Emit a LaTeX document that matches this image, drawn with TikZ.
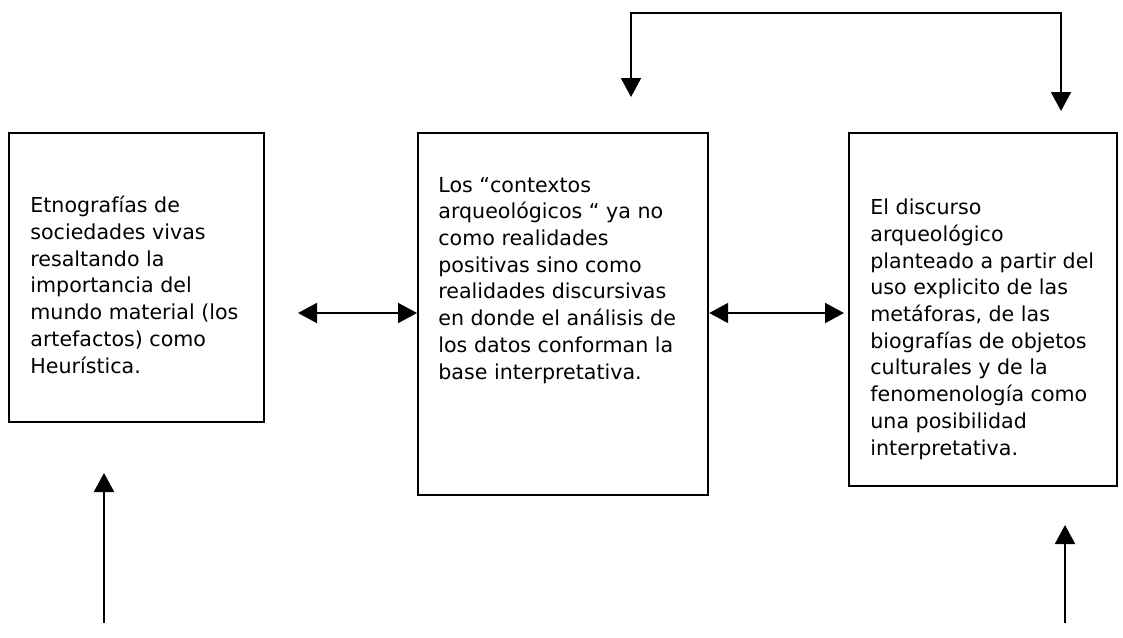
\documentclass[tikz,border=0pt]{standalone}
\usepackage{fontspec}
\setmainfont{DejaVu Sans}
\usetikzlibrary{arrows.meta,positioning,calc}
\tikzset{
  caja/.style={draw,line width=1.1pt,anchor=north west,inner sep=0pt},
  texto/.style={anchor=base west,align=left,inner sep=0pt,
    font=\fontsize{10.3}{13.35}\selectfont},
  flecha/.style={line width=1pt}
}

\begin{document}
\begin{tikzpicture}[x=0.5pt,y=-0.5pt,>={Triangle[length=9.5pt,width=10pt]}]
  \useasboundingbox (0,0) rectangle (1123,637);
  % the three boxes
  \node[caja,minimum width=127.5pt,minimum height=144.5pt] (etno) at (8,132) {};
  \node[caja,minimum width=145pt,minimum height=181pt] (ctx) at (417,132) {};
  \node[caja,minimum width=134pt,minimum height=176.5pt] (disc) at (848,132) {};
  % base = last line of each text
  \node[texto] (etnotxt) at ($(etno.north west)+(22,241)$)
    {Etnografías de\\ sociedades vivas\\ resaltando la\\ importancia del\\
     mundo material (los\\ artefactos) como\\ Heurística.};
  \node[texto] (ctxtxt) at ($(ctx.north west)+(21,247)$)
    {Los “contextos\\ arqueológicos “ ya no\\ como realidades\\ positivas sino como\\
     realidades discursivas\\ en donde el análisis de\\ los datos conforman la\\ base interpretativa.};
  \node[texto] (disctxt) at ($(disc.north west)+(22,323)$)
    {El discurso\\ arqueológico\\ planteado a partir del\\ uso explicito de las\\
     metáforas, de las\\ biografías de objetos\\ culturales y de la\\ fenomenología como\\
     una posibilidad\\ interpretativa.};
  % free ends
  \coordinate (izq) at (298,313);
  \coordinate (arribaI) at (631,97);
  \coordinate (arribaD) at (1061,111);
  \coordinate (techo) at (0,13);
  \coordinate (abajoI) at (104,623);
  \coordinate (abajoD) at (1065,623);
  % arrows
  \draw[flecha,<->] (izq) -- (izq -| ctx.west);
  \draw[flecha,<->] (izq -| ctx.east) -- ($(izq -| disc.west)+(-4,0)$);
  \draw[flecha,<->] (arribaI) -- (arribaI |- techo) -- (arribaD |- techo) -- (arribaD);
  \draw[flecha,->] (abajoI) -- ($(abajoI)+(0,-150)$);
  \draw[flecha,->] (abajoD) -- ($(abajoD)+(0,-98)$);
\end{tikzpicture}
\end{document}
